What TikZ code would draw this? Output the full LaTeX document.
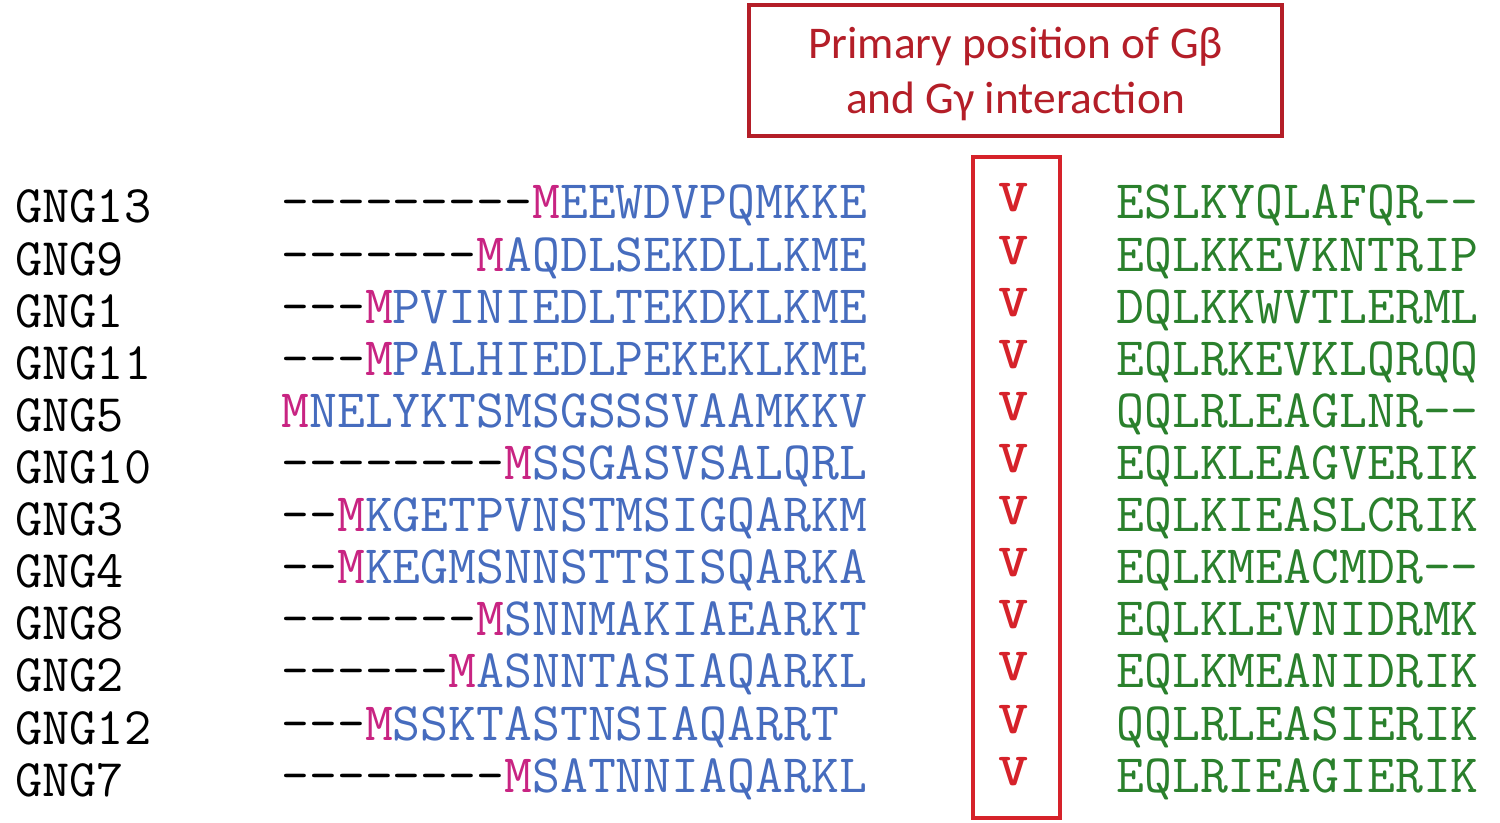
\documentclass[tikz,border=0pt]{standalone}
\usepackage{fontspec}
\newfontfamily\calibri{Carlito}
\definecolor{seqblue}{RGB}{70,108,190}
\definecolor{seqmag}{RGB}{200,36,130}
\definecolor{seqgreen}{RGB}{42,128,44}
\definecolor{vred}{RGB}{214,34,42}
\definecolor{boxred}{RGB}{180,30,40}
\newcommand\seqfont{\fontsize{27.07}{30}\selectfont\ttfamily}
\newcommand\labfont{\fontsize{26.4}{30}\selectfont\ttfamily}
\newcommand\mydashes[1]{\ifnum#1>0 -{}\expandafter\mydashes\expandafter{\the\numexpr#1-1\relax}\fi}
\begin{document}
\begin{tikzpicture}[x=0.5pt,y=-0.5pt,
  lab/.style={anchor=base west, inner sep=0pt, font=\labfont, text=black},
  seq/.style={anchor=base west, inner sep=0pt, font=\seqfont, text=seqblue},
  grn/.style={anchor=base west, inner sep=0pt, font=\seqfont, text=seqgreen},
  vmark/.style={anchor=base, inner sep=0pt, font=\fontsize{23}{28}\selectfont\ttfamily\bfseries, text=vred, xscale=1.25},
  vbox/.style={draw=vred, line width=2pt, minimum width=43.5pt, minimum height=330.5pt, inner sep=0pt},
  titlebox/.style={draw=boxred, line width=2pt, minimum width=266.5pt, minimum height=65.5pt, inner sep=0pt},
  titletext/.style={inner sep=0pt, align=center, text=boxred, font=\calibri\fontsize{22.7}{27.5}\selectfont}]
\useasboundingbox (0,0) rectangle (1500,823);
\node[titlebox] (title) at (1015.5,70.5) {};
\node[titletext] (titletxt) at (1015.5,74) {Primary position of G\symbol{"03B2}\\and G\symbol{"03B3} interaction};
\node[vbox] (col) at (1016.5,487.5) {};
\foreach \lab/\nd/\rest/\gr [count=\i from 0] in {
  GNG13/9/EEWDVPQMKKE/ESLKYQLAFQR-{}-,
  GNG9/7/AQDLSEKDLLKME/EQLKKEVKNTRIP,
  GNG1/3/PVINIEDLTEKDKLKME/DQLKKWVTLERML,
  GNG11/3/PALHIEDLPEKEKLKME/EQLRKEVKLQRQQ,
  GNG5/0/NELYKTSMSGSSSVAAMKKV/QQLRLEAGLNR-{}-,
  GNG10/8/SSGASVSALQRL/EQLKLEAGVERIK,
  GNG3/2/KGETPVNSTMSIGQARKM/EQLKIEASLCRIK,
  GNG4/2/KEGMSNNSTTSISQARKA/EQLKMEACMDR-{}-,
  GNG8/7/SNNMAKIAEARKT/EQLKLEVNIDRMK,
  GNG2/6/ASNNTASIAQARKL/EQLKMEANIDRIK,
  GNG12/3/SSKTASTNSIAQARRT/QQLRLEASIERIK,
  GNG7/8/SATNNIAQARKL/EQLRIEAGIERIK}{
  \node[lab] (l\i) at (15,{223+52.1*\i}) {\lab};
  \node[seq] (s\i) at (281,{219+52.1*\i}) {\textcolor{black}{\mydashes{\nd}}\textcolor{seqmag}{M}\rest};
  \node[vmark] (v\i) at (1014,{212+52.1*\i}) {V};
  \node[grn] (g\i) at (1116,{219+52.1*\i}) {\gr};
}
\end{tikzpicture}
\end{document}
